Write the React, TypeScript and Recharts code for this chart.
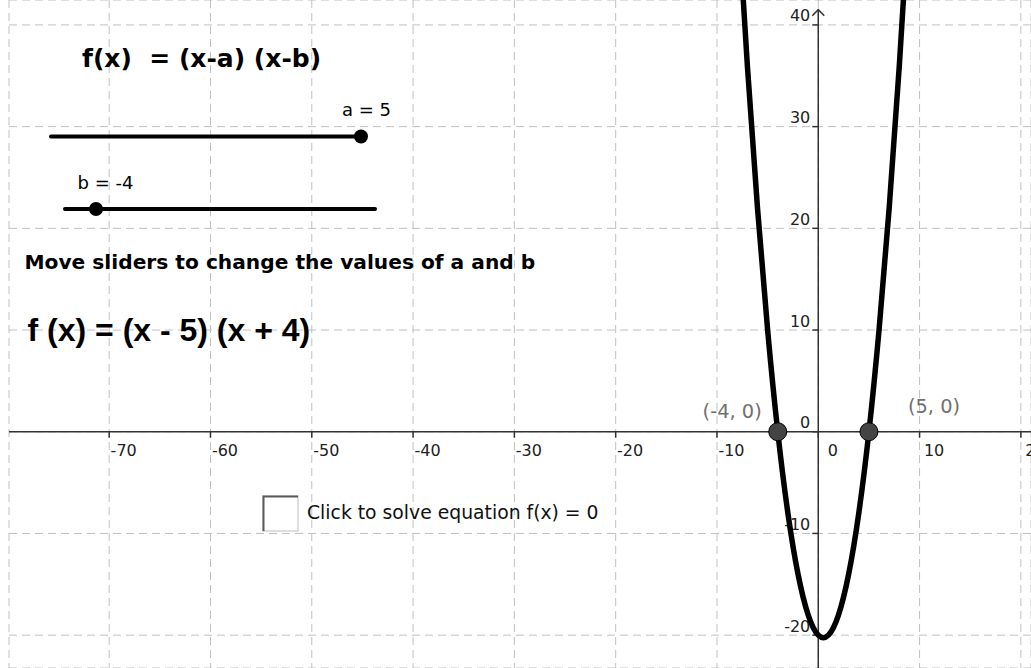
import React from 'react';
import {
  ComposedChart,
  Line,
  Scatter,
  XAxis,
  YAxis,
  CartesianGrid,
  ReferenceLine,
  ReferenceDot,
} from 'recharts';

const W = 1031;
const H = 668;
const FONT = '"DejaVu Sans", Verdana, sans-serif';
const FONT_NARROW = '"Liberation Sans", Arial, sans-serif';

// slider parameters
const sliderNames = ['a', 'b'];
const sliderValues = [5, -4];
const sliderMin = -5;
const sliderMax = 5;

// samples of f(x) = (x - a)(x - b)
const curveX = [-10, -9, -8, -7, -6, -5, -4, -3, -2, -1, 0, 1, 2, 3, 4, 5, 6, 7, 8, 9, 10, 11];
const curveY = [90, 70, 52, 36, 22, 10, 0, -8, -14, -18, -20, -20, -18, -14, -8, 0, 10, 22, 36, 52, 70, 90];

// roots of f(x) = 0
const rootX = [-4, 5];
const rootY = [0, 0];

const xTicks = [-70, -60, -50, -40, -30, -20, -10, 0, 10, 20];
const yTicks = [-20, -10, 0, 10, 20, 30, 40];

const X_DOMAIN: [number, number] = [-79.89, 21.0];
const Y_DOMAIN: [number, number] = [-23.23, 42.45];
const Y_AXIS_TOP = 41.5;

const AXIS_COLOR = '#333';

const curveData = curveX.map((x, i) => ({ x, y: curveY[i] }));
const rootData = rootX.map((x, i) => ({ x, y: rootY[i], i }));
const xTickData = xTicks.map((x) => ({ x, y: 0 }));
const yTickData = yTicks.map((y) => ({ x: 0, y }));

// where each root label sits relative to its dot
const rootLabelPos = [
  { dx: -16, dy: -14, anchor: 'end' },
  { dx: 39, dy: -19, anchor: 'start' },
];

// slider tracks in screen space
const sliderLayout = [
  { x: 51, y: 136.5, width: 310, labelX: 342, labelY: 115.5 },
  { x: 65, y: 209, width: 310, labelX: 77.5, labelY: 189 },
];

const XTick = (props: any) => {
  const { cx, cy, payload } = props;
  return (
    <g>
      <line x1={cx} y1={cy} x2={cx} y2={cy + 6} stroke={AXIS_COLOR} strokeWidth={1.5} />
      <text x={cx + 14.5} y={cy + 24} textAnchor="middle" fontSize={16} fontFamily={FONT} fill="#222">
        {String(payload.x)}
      </text>
    </g>
  );
};

const YTick = (props: any) => {
  const { cx, cy, payload } = props;
  return (
    <g>
      <line x1={cx - 6} y1={cy} x2={cx} y2={cy} stroke={AXIS_COLOR} strokeWidth={1.5} />
      <text x={cx - 8} y={cy - 3.5} textAnchor="end" fontSize={16} fontFamily={FONT} fill="#222">
        {String(payload.y)}
      </text>
    </g>
  );
};

const RootDot = (props: any) => {
  const { cx, cy, payload } = props;
  const pos = rootLabelPos[payload.i];
  return (
    <g>
      <circle cx={cx} cy={cy} r={9} fill="#444" stroke="#000" strokeWidth={1} />
      <text
        x={cx + pos.dx}
        y={cy + pos.dy}
        textAnchor={pos.anchor}
        fontSize={19.4}
        fontFamily={FONT}
        fill="#707070"
      >
        {`(${payload.x}, ${payload.y})`}
      </text>
    </g>
  );
};

const AxisArrow = (props: any) => {
  const { cx, cy } = props;
  return (
    <polyline
      points={`${cx - 6},${cy + 6} ${cx},${cy} ${cx + 6},${cy + 6}`}
      fill="none"
      stroke={AXIS_COLOR}
      strokeWidth={1.5}
    />
  );
};

const term = (v: number) => (v < 0 ? `(x + ${-v})` : `(x - ${v})`);

const App: React.FC = () => {
  const [a, b] = sliderValues;

  return (
    <div style={{ position: 'absolute', left: 0, top: 0, width: W, height: H, background: '#fff' }}>
      <ComposedChart width={W} height={H} margin={{ top: 0, right: 0, bottom: 0, left: 9 }}>
        <CartesianGrid stroke="#c0c0c0" strokeDasharray="8 5" />
        <XAxis
          type="number"
          dataKey="x"
          domain={X_DOMAIN}
          ticks={xTicks}
          allowDataOverflow
          hide
        />
        <YAxis
          type="number"
          dataKey="y"
          domain={Y_DOMAIN}
          ticks={yTicks}
          allowDataOverflow
          hide
        />
        <ReferenceLine y={0} stroke={AXIS_COLOR} strokeWidth={1.5} zIndex={300} />
        <ReferenceLine
          segment={[{ x: 0, y: Y_DOMAIN[0] }, { x: 0, y: Y_AXIS_TOP }]}
          stroke={AXIS_COLOR}
          strokeWidth={1.5}
          zIndex={300}
        />
        <ReferenceDot x={0} y={Y_AXIS_TOP} r={0} shape={AxisArrow} zIndex={300} />
        <Scatter data={xTickData} shape={XTick} isAnimationActive={false} zIndex={350} />
        <Scatter data={yTickData} shape={YTick} isAnimationActive={false} zIndex={350} />
        <Line
          data={curveData}
          dataKey="y"
          type="natural"
          stroke="#000"
          strokeWidth={5.5}
          dot={false}
          activeDot={false}
          isAnimationActive={false}
          zIndex={400}
        />
        <Scatter data={rootData} shape={RootDot} isAnimationActive={false} zIndex={600} />
      </ComposedChart>

      <svg
        width={W}
        height={H}
        style={{ position: 'absolute', left: 0, top: 0, pointerEvents: 'none' }}
      >
        <text
          x={82}
          y={67}
          fontSize={25}
          fontWeight="bold"
          fontFamily={FONT}
          fill="#000"
          xmlSpace="preserve"
          style={{ whiteSpace: 'pre' }}
        >
          {'f(x)  = (x-a) (x-b)'}
        </text>

        {sliderLayout.map((s, i) => {
          const v = sliderValues[i];
          const dotX = s.x + ((v - sliderMin) / (sliderMax - sliderMin)) * s.width;
          return (
            <g key={sliderNames[i]}>
              <line
                x1={s.x}
                y1={s.y}
                x2={s.x + s.width}
                y2={s.y}
                stroke="#000"
                strokeWidth={4}
                strokeLinecap="round"
              />
              <circle cx={dotX} cy={s.y} r={7} fill="#000" />
              <text x={s.labelX} y={s.labelY} fontSize={18} fontFamily={FONT} fill="#000">
                {`${sliderNames[i]} = ${v}`}
              </text>
            </g>
          );
        })}

        <text x={24.5} y={269} fontSize={20.2} fontWeight="bold" fontFamily={FONT} fill="#000">
          Move sliders to change the values of a and b
        </text>

        <text x={27.5} y={341} fontSize={32} fontWeight="bold" fontFamily={FONT_NARROW} fill="#000">
          {`f (x) = ${term(a)} ${term(b)}`}
        </text>

        <rect x={263} y={496} width={35} height={35} fill="#fff" stroke="#d4d4d4" strokeWidth={1.5} />
        <polyline points="263.5,531 263.5,496.5 298,496.5" fill="none" stroke="#5a5a5a" strokeWidth={2} />
        <text x={307} y={518.5} fontSize={18.8} fontFamily={FONT} fill="#111">
          Click to solve equation f(x) = 0
        </text>
      </svg>
    </div>
  );
};

export default App;
